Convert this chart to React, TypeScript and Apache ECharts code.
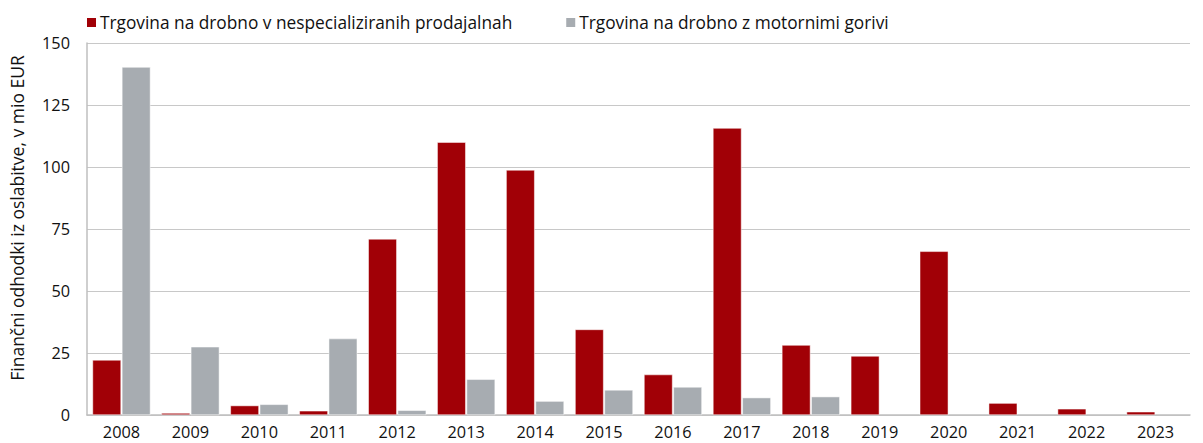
import React, { useEffect, useRef } from "react";
import * as echarts from "echarts";

const categories = ["2008","2009","2010","2011","2012","2013","2014","2015","2016","2017","2018","2019","2020","2021","2022","2023"];
const seriesNames = ["Trgovina na drobno v nespecializiranih prodajalnah", "Trgovina na drobno z motornimi gorivi"];
const redValues = [22.2, 0.8, 3.8, 1.7, 71, 110, 98.8, 34.5, 16.3, 115.7, 28.2, 23.8, 66, 4.8, 2.5, 1.3];
const greyValues: (number | null)[] = [140.3, 27.5, 4.3, 30.8, 1.9, 14.4, 5.6, 10.1, 11.3, 7.0, 7.4, null, null, null, null, null];
const yAxisName = "Finančni odhodki iz oslabitve, v mio EUR";

const FONT = "Open Sans";

export default function App() {
  const ref = useRef<HTMLDivElement>(null);
  useEffect(() => {
    if (!ref.current) return;
    const chart = echarts.init(ref.current, undefined, { renderer: "svg" });
    chart.setOption({
      animation: false,
      textStyle: { fontFamily: FONT, color: "#111" },
      legend: {
        left: 80,
        top: 9,
        padding: [5, 5, 5, 5],
        itemWidth: 11,
        itemHeight: 11,
        itemGap: 52,
        icon: "rect",
        textStyle: { fontFamily: FONT, fontSize: 17.3, color: "#111", padding: [0, 0, 0, -2] },
        data: seriesNames,
      },
      grid: { left: 86, right: 13, top: 43, bottom: 28, containLabel: false },
      xAxis: {
        type: "category",
        data: categories,
        axisLine: { show: true, lineStyle: { color: "#bfbfbf", width: 1.5 } },
        axisTick: { show: false },
        axisLabel: { fontFamily: FONT, fontSize: 16.3, color: "#111", margin: 9 },
      },
      yAxis: {
        type: "value",
        min: 0,
        max: 150,
        interval: 25,
        name: yAxisName,
        nameLocation: "middle",
        nameGap: 61,
        nameTextStyle: { fontFamily: FONT, fontSize: 17.5, color: "#111", padding: [0, 0, 0, 22] },
        axisLine: { show: true, lineStyle: { color: "#bfbfbf", width: 1.5 } },
        axisTick: { show: false },
        splitLine: { show: true, lineStyle: { color: "#c8c8c8", width: 1 } },
        axisLabel: { fontFamily: FONT, fontSize: 16.3, color: "#111", margin: 17 },
      },
      series: [
        {
          name: seriesNames[0],
          type: "bar",
          data: redValues,
          barGap: "3%",
          barCategoryGap: "16%",
          itemStyle: { color: "#a10006", borderColor: "#ffffff", borderWidth: 0.5 },
        },
        {
          name: seriesNames[1],
          type: "bar",
          data: greyValues,
          barGap: "3%",
          barCategoryGap: "16%",
          itemStyle: { color: "#a7acb1", borderColor: "#ffffff", borderWidth: 0.5 },
        },
      ],
    });
    return () => chart.dispose();
  }, []);
  return <div ref={ref} style={{ width: 1203, height: 443, position: "absolute", left: 0, top: 0, background: "#fff" }} />;
}
